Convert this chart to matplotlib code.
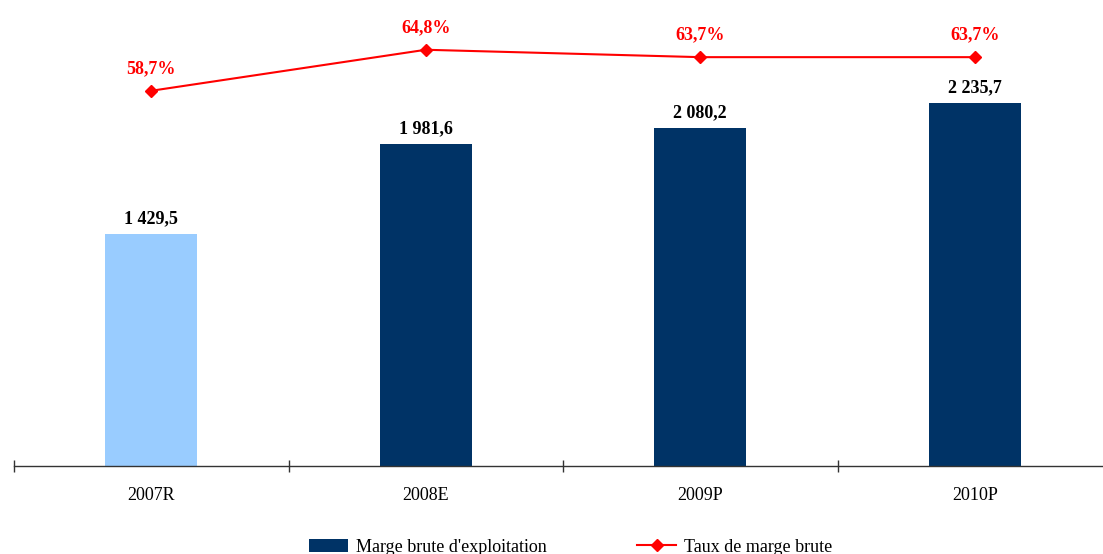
import matplotlib
matplotlib.use("Agg")
import matplotlib.pyplot as plt
from matplotlib.patches import Patch
from matplotlib.lines import Line2D

plt.rcParams['font.family'] = ['Liberation Serif', 'DejaVu Serif']

years = ["2007R", "2008E", "2009P", "2010P"]
marge_brute = [1429.5, 1981.6, 2080.2, 2235.7]
taux_marge = [58.7, 64.8, 63.7, 63.7]
bar_colors = ["#99CCFF", "#003366", "#003366", "#003366"]


def fr_number(v):
    s = f"{v:,.1f}"
    return s.replace(",", " ").replace(".", ",")


def fr_pct(v):
    return f"{v:.1f}".replace(".", ",") + "%"


W, H = 1103, 554
fig = plt.figure(figsize=(W / 100, H / 100), dpi=100)
left_px, right_px = 14, 1112
bottom_px = 466
ax = fig.add_axes([left_px / W, (H - bottom_px) / H, (right_px - left_px) / W, bottom_px / H])

x = list(range(len(years)))
ax.bar(x, marge_brute, width=0.335, color=bar_colors, zorder=2)
ax.set_xlim(-0.5, len(years) - 0.5)
ax.set_ylim(0, 2870)

for xi, v in zip(x, marge_brute):
    ax.annotate(fr_number(v), (xi, v), xytext=(0, 5), textcoords="offset points",
                ha="center", va="bottom", fontsize=13, fontweight="bold", color="black")

for s in ["top", "right", "left"]:
    ax.spines[s].set_visible(False)
ax.spines["bottom"].set_color("#333333")
ax.spines["bottom"].set_linewidth(1.0)
ax.set_yticks([])

# category boundaries carry the tick marks, labels sit at the centres
ax.set_xticks([i - 0.5 for i in range(len(years) + 1)])
ax.set_xticklabels([])
ax.tick_params(axis="x", direction="inout", length=8, width=1, color="#333333")
ax.set_xticks(x, minor=True)
ax.set_xticklabels(years, minor=True, fontsize=13)
ax.tick_params(axis="x", which="minor", length=0, pad=15)

ax2 = ax.twinx()
ax2.set_ylim(2.9, 72.2)
ax2.plot(x, taux_marge, color="#FF0000", lw=1.5, marker="D", markersize=6.5,
         markerfacecolor="#FF0000", markeredgecolor="#FF0000", zorder=3)
for xi, v in zip(x, taux_marge):
    ax2.annotate(fr_pct(v), (xi, v), xytext=(0, 10), textcoords="offset points",
                 ha="center", va="bottom", fontsize=13, fontweight="bold", color="#FF0000")
ax2.axis("off")

handles = [
    Patch(facecolor="#003366", edgecolor="none", label="Marge brute d'exploitation"),
    Line2D([0], [0], color="#FF0000", lw=1.5, marker="D", markersize=6.5,
           label="Taux de marge brute"),
]
fig.legend(handles=handles, loc="center", bbox_to_anchor=(0.517, 1 - 547 / H),
           ncol=2, frameon=False, fontsize=13, handlelength=2.2, handletextpad=0.4,
           columnspacing=5.0)

fig.savefig("out.png", dpi=100)
